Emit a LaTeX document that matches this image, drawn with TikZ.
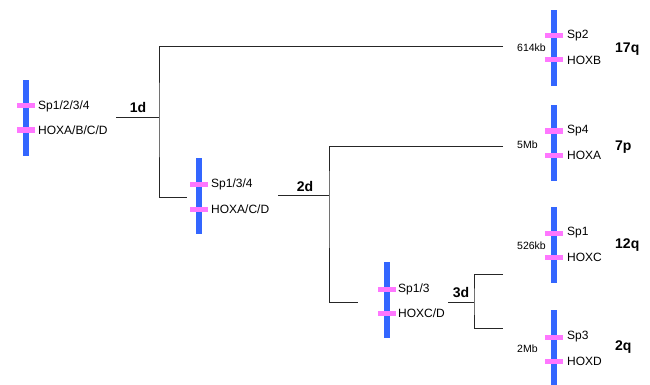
\documentclass[tikz,border=0pt]{standalone}
\usepackage{fontspec}
\setmainfont{Liberation Sans}
\usetikzlibrary{positioning}
\definecolor{chromblue}{RGB}{51,102,255}
\definecolor{bandpink}{RGB}{255,119,255}
\tikzset{
  chrom/.style={fill=chromblue, draw=none, inner sep=0pt, minimum width=6pt, minimum height=76pt},
  band/.style={fill=bandpink, draw=none, inner sep=0pt, minimum width=18pt, minimum height=5pt},
  gene/.style={anchor=west, inner sep=0pt, font=\fontsize{12}{14}\selectfont},
  dist/.style={anchor=west, inner sep=0pt, font=\fontsize{10.5}{12}\selectfont},
  arm/.style={anchor=west, inner sep=0pt, font=\fontsize{14}{16}\selectfont\bfseries},
  dup/.style={inner sep=0pt, font=\fontsize{14}{16}\selectfont\bfseries},
  tree/.style={draw=black!85, line width=1pt}
}

\begin{document}
\begin{tikzpicture}[x=1pt,y=-1pt]
			\useasboundingbox (0,0) rectangle (650,385);
			% ancestral and intermediate chromosomes
			\node[chrom](chA) at (26,118) {};
			\node[band](spA) at (26,106) {};
			\node[band](hoxA) at (26,130) {};
			\node[gene](lspA) at (38,106) {Sp1/2/3/4};
			\node[gene](lhoxA) at (38,130) {HOXA/B/C/D};
			\node[chrom](chB) at (199,196) {};
			\node[band](spB) at (199,184) {};
			\node[band](hoxB) at (199,209) {};
			\node[gene](lspB) at (211,184) {Sp1/3/4};
			\node[gene](lhoxB) at (211,209) {HOXA/C/D};
			\node[chrom](chC) at (387,300) {};
			\node[band](spC) at (387,289) {};
			\node[band](hoxC) at (387,313) {};
			\node[gene](lspC) at (398,289) {Sp1/3};
			\node[gene](lhoxC) at (398,313) {HOXC/D};
			% human chromosomes
			\node[chrom](ch17) at (554,48) {};
			\node[band](sp17) at (554,36) {};
			\node[band](hox17) at (554,60) {};
			\node[gene](lsp17) at (567,36) {Sp2};
			\node[gene](lhox17) at (567,60) {HOXB};
			\node[dist](kb17) at (517,48) {614kb};
			\node[arm](arm17) at (615,49) {17q};
			\node[chrom](ch7) at (554,143) {};
			\node[band](sp7) at (554,131) {};
			\node[band](hox7) at (554,155) {};
			\node[gene](lsp7) at (567,131) {Sp4};
			\node[gene](lhox7) at (567,155) {HOXA};
			\node[dist](kb7) at (517,145) {5Mb};
			\node[arm](arm7) at (615,147) {7p};
			\node[chrom](ch12) at (554,245) {};
			\node[band](sp12) at (554,233) {};
			\node[band](hox12) at (554,257) {};
			\node[gene](lsp12) at (567,233) {Sp1};
			\node[gene](lhox12) at (567,257) {HOXC};
			\node[dist](kb12) at (517,246) {526kb};
			\node[arm](arm12) at (615,245) {12q};
			\node[chrom](ch2) at (554,348) {};
			\node[band](sp2) at (554,337) {};
			\node[band](hox2) at (554,361) {};
			\node[gene](lsp2) at (567,337) {Sp3};
			\node[gene](lhox2) at (567,361) {HOXD};
			\node[dist](kb2) at (517,349) {2Mb};
			\node[arm](arm2) at (615,347) {2q};
			% duplication tree
			\coordinate (r1) at (116,118);
			\coordinate (v1) at (159,118);
			\coordinate (t1) at (503,47);
			\coordinate (b1) at (187,197);
			\coordinate (r2) at (278,195);
			\coordinate (v2) at (329,195);
			\coordinate (t2) at (503,146);
			\coordinate (b2) at (358,302);
			\coordinate (r3) at (448,302);
			\coordinate (v3) at (474,302);
			\coordinate (t3) at (503,274);
			\coordinate (b3) at (503,328);
			\draw[tree](r1) -- (v1);
			\draw[tree](t1) -| (v1) |- (b1);
			\draw[tree](r2) -- (v2);
			\draw[tree](t2) -| (v2) |- (b2);
			\draw[tree](r3) -- (v3);
			\draw[tree](t3) -| (v3) |- (b3);
			\node[dup](d1) at (138,107) {1d};
			\node[dup](d2) at (305,186) {2d};
			\node[dup](d3) at (461,293) {3d};
		\end{tikzpicture}
\end{document}
